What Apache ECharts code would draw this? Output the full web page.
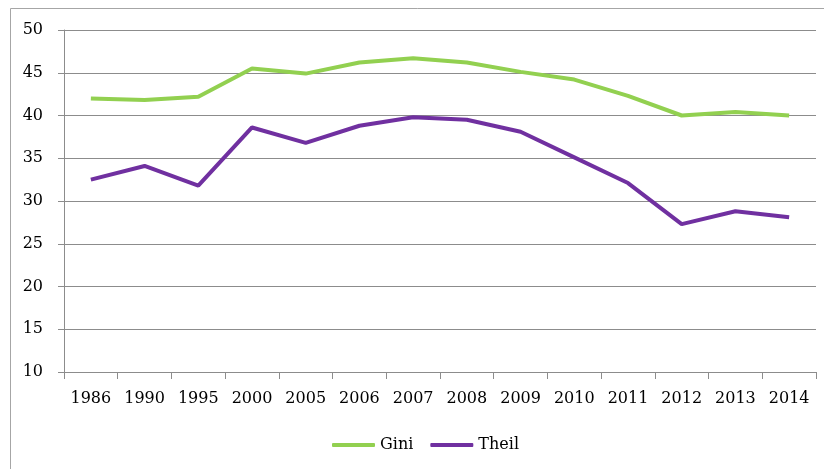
<!DOCTYPE html>
<html>
<head>
  <meta charset="UTF-8">
  <title>Gini and Theil</title>
  <script src="https://cdn.jsdelivr.net/npm/echarts@6/dist/echarts.min.js"></script>
  <style>
    body { margin: 0; background: #fff; }
    #chart { width: 824px; height: 469px; }
  </style>
</head>
<body>
  <div id="chart"></div>
  <script>
    const years = ['1986', '1990', '1995', '2000', '2005', '2006', '2007',
                   '2008', '2009', '2010', '2011', '2012', '2013', '2014'];
    const gini = [42.0, 41.8, 42.2, 45.5, 44.9, 46.2, 46.7, 46.2, 45.1, 44.2, 42.3, 40.0, 40.4, 40.0];
    const theil = [32.5, 34.1, 31.8, 38.6, 36.8, 38.8, 39.8, 39.5, 38.1, 35.1, 32.1, 27.3, 28.8, 28.1];

    const font = 'DejaVu Serif';
    const gray = '#8c8c8c';

    const chart = echarts.init(document.getElementById('chart'));
    chart.setOption({
      animation: false,
      graphic: [{
        type: 'rect',
        shape: { x: 10.5, y: 8.5, width: 840, height: 500 },
        style: { fill: 'none', stroke: '#a6a6a6', lineWidth: 1 }
      }],
      grid: { left: 64, top: 30, right: 8, bottom: 97 },
      legend: {
        bottom: 11,
        left: 327,
        itemWidth: 43,
        itemHeight: 4,
        itemGap: 17,
        icon: 'roundRect',
        textStyle: { fontFamily: font, fontSize: 16, color: '#000' },
        data: ['Gini', 'Theil']
      },
      xAxis: {
        type: 'category',
        data: years,
        boundaryGap: true,
        axisLine: { lineStyle: { color: gray, width: 1 } },
        axisTick: { show: true, length: 7, alignWithLabel: false, lineStyle: { color: gray } },
        axisLabel: { margin: 19, fontFamily: font, fontSize: 16, color: '#000' }
      },
      yAxis: {
        type: 'value',
        min: 10,
        max: 50,
        interval: 5,
        axisLine: { show: true, lineStyle: { color: gray, width: 1 } },
        axisTick: { show: true, length: 6, lineStyle: { color: gray } },
        axisLabel: { margin: 21, fontFamily: font, fontSize: 16, color: '#000' },
        splitLine: { lineStyle: { color: gray, width: 1 } }
      },
      series: [
        {
          name: 'Gini',
          type: 'line',
          data: gini,
          symbol: 'none',
          lineStyle: { color: '#92d050', width: 4 },
          itemStyle: { color: '#92d050' }
        },
        {
          name: 'Theil',
          type: 'line',
          data: theil,
          symbol: 'none',
          lineStyle: { color: '#7030a0', width: 4 },
          itemStyle: { color: '#7030a0' }
        }
      ]
    });
  </script>
</body>
</html>
